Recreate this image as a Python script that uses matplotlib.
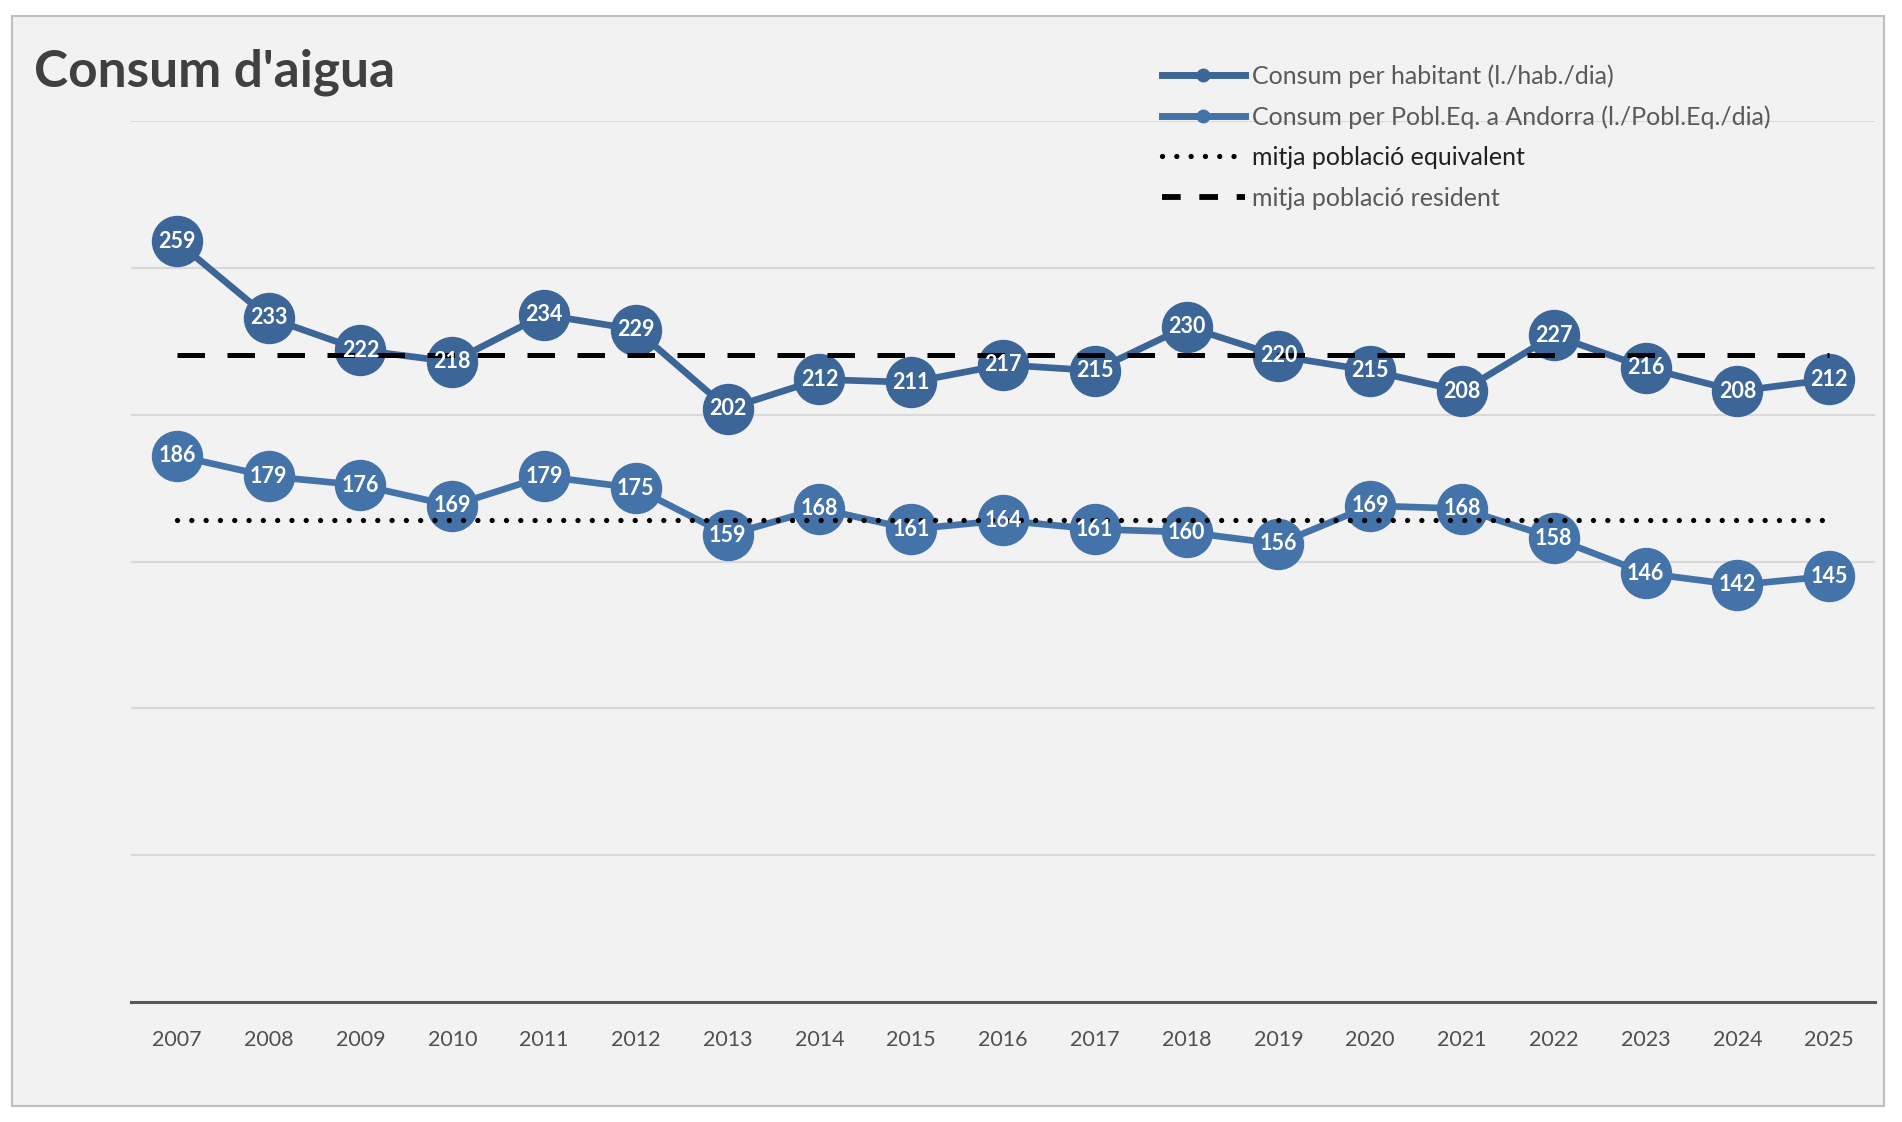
import matplotlib
matplotlib.use('Agg')
import matplotlib.pyplot as plt
from matplotlib.lines import Line2D
from matplotlib.patches import Rectangle

plt.rcParams['font.family'] = ['Lato', 'DejaVu Sans']

# data
years = ['2007', '2008', '2009', '2010', '2011', '2012', '2013', '2014', '2015', '2016',
         '2017', '2018', '2019', '2020', '2021', '2022', '2023', '2024', '2025']
per_habitant = [259, 233, 222, 218, 234, 229, 202, 212, 211, 217,
                215, 230, 220, 215, 208, 227, 216, 208, 212]
per_pobl_eq = [186, 179, 176, 169, 179, 175, 159, 168, 161, 164,
               161, 160, 156, 169, 168, 158, 146, 142, 145]
mitja_resident = 220.4
mitja_equivalent = 164.3

labels = ['Consum per habitant (l./hab./dia)',
          'Consum per Pobl.Eq. a Andorra (l./Pobl.Eq./dia)',
          'mitja població equivalent',
          'mitja població resident']

c_hab = '#3c6698'
c_eq = '#4473aa'
grey_txt = '#595959'

fig = plt.figure(figsize=(19.02, 11.22), dpi=100, facecolor='white')

# chart area background + border
fig.patches.append(Rectangle((12 / 1902, 1 - 1106 / 1122), (1884 - 12) / 1902, (1106 - 16) / 1122,
                             transform=fig.transFigure, facecolor='#f2f2f2',
                             edgecolor='#bfbfbf', linewidth=1.5, zorder=-10))

ax = fig.add_axes([131 / 1902, 1 - 1002 / 1122, (1875 - 131) / 1902, (1002 - 121) / 1122])
ax.set_facecolor('none')
x = list(range(len(years)))

ax.set_xlim(-0.5, len(years) - 0.5)
ax.set_ylim(0, 300)
ax.set_yticks([50, 100, 150, 200, 250, 300])
ax.yaxis.grid(True, color='#d9d9d9', linewidth=1.5)
ax.set_axisbelow(True)
ax.tick_params(axis='y', left=False, labelleft=False)
ax.tick_params(axis='x', bottom=False, labelsize=15.5, labelcolor='#505050', pad=17)
ax.set_xticks(x)
ax.set_xticklabels(years)
for s in ['left', 'right', 'top']:
    ax.spines[s].set_visible(False)
ax.spines['bottom'].set_color('#595959')
ax.spines['bottom'].set_linewidth(2.2)

# series
ax.plot(x, per_habitant, color=c_hab, lw=4.8, marker='o', markersize=36,
        markeredgecolor=c_hab, zorder=3)
ax.plot(x, per_pobl_eq, color=c_eq, lw=4.8, marker='o', markersize=36,
        markeredgecolor=c_eq, zorder=3)

# averages
ax.plot([x[0], x[-1]], [mitja_resident] * 2, color='black', lw=3.6,
        linestyle=(0, (5.5, 4.5)), zorder=4)
ax.plot([x[0], x[-1]], [mitja_equivalent] * 2, color='black', lw=3.8,
        linestyle=(0, (0.01, 2.7)), dash_capstyle='round', zorder=4)

# data labels
for xi, v in zip(x, per_habitant):
    ax.text(xi, v, str(v), color='white', fontsize=15.5, fontweight='bold',
            ha='center', va='center', zorder=5)
for xi, v in zip(x, per_pobl_eq):
    ax.text(xi, v, str(v), color='white', fontsize=15.5, fontweight='bold',
            ha='center', va='center', zorder=5)

# title
fig.text(34 / 1902, 1 - 87 / 1122, "Consum d'aigua", fontsize=37, fontweight='bold',
         color='#404040', ha='left', va='baseline')

# legend
handles = [
    Line2D([], [], color=c_hab, lw=5, marker='o', markersize=9),
    Line2D([], [], color=c_eq, lw=5, marker='o', markersize=9),
    Line2D([], [], color='black', lw=3.8, linestyle=(0, (0.01, 2.7)), dash_capstyle='round'),
    Line2D([], [], color='black', lw=4.2, linestyle=(0, (3.2, 3.2))),
]
leg = fig.legend(handles, labels, loc='upper left', bbox_to_anchor=(1162 / 1902, 1 - 64 / 1122),
                 frameon=False, fontsize=18, handlelength=3.3, handletextpad=0.3,
                 labelspacing=0.7, borderpad=0, borderaxespad=0)
for t, col in zip(leg.get_texts(), [grey_txt, grey_txt, '#202020', grey_txt]):
    t.set_color(col)

fig.savefig('out.png', dpi=100, facecolor='white')
